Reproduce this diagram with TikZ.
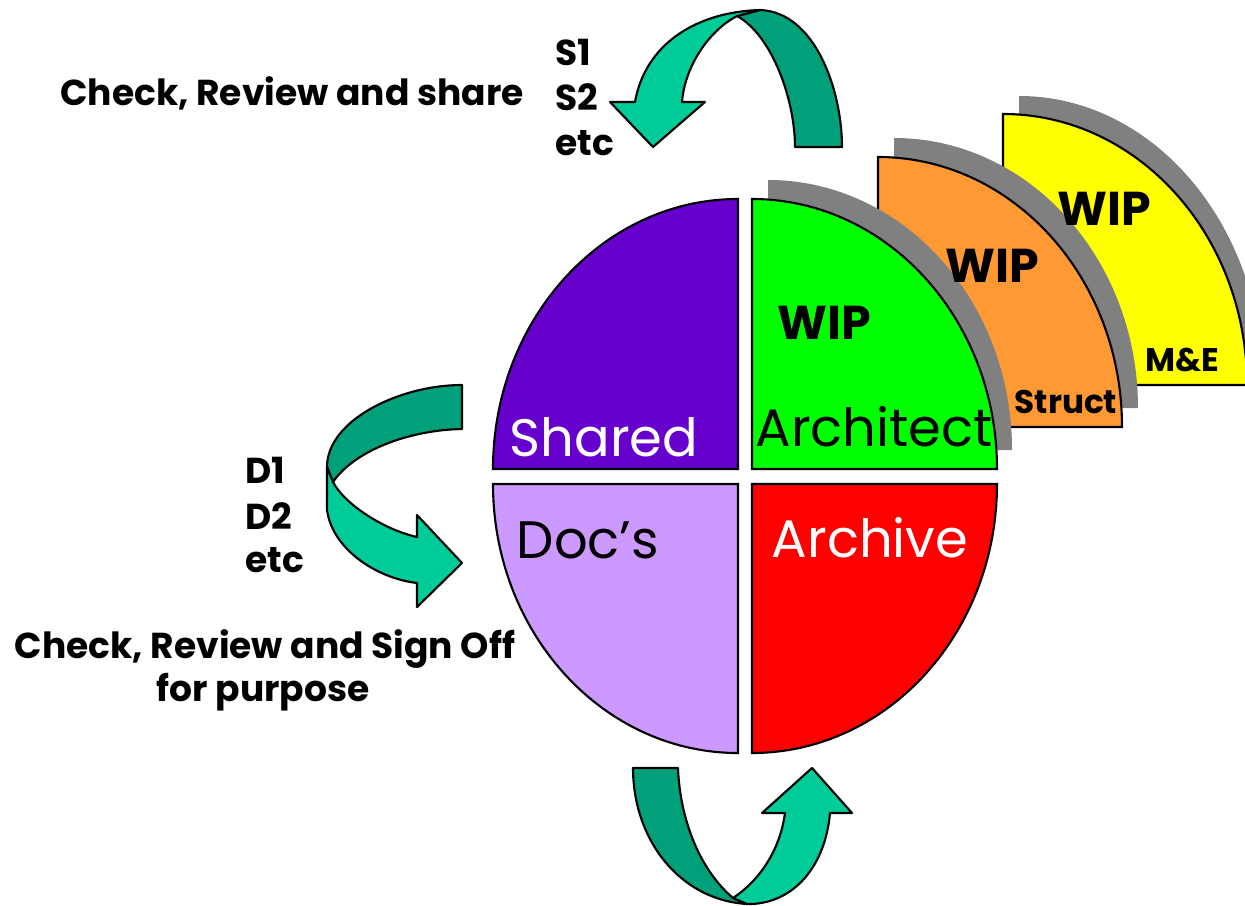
\documentclass[tikz,border=0pt]{standalone}
\usepackage{fontspec}
\setmainfont{Poppins}
\definecolor{cpurple}{HTML}{6600CC}
\definecolor{clav}{HTML}{CC99FF}
\definecolor{cgreen}{HTML}{00FF00}
\definecolor{cred}{HTML}{FF0000}
\definecolor{corange}{HTML}{FF9933}
\definecolor{cyellow}{HTML}{FFFF00}
\definecolor{cshadow}{HTML}{808080}
\definecolor{adark}{HTML}{00A07A}
\definecolor{alight}{HTML}{00CC99}
\tikzset{
  quad/.style={draw=black,line width=0.6pt},
  shad/.style={fill=cshadow},
  arrdark/.style={fill=adark,draw=black,line width=0.6pt,line join=round},
  arrlight/.style={fill=alight,draw=black,line width=0.6pt,line join=round},
  bigtxt/.style={inner sep=0pt,font=\fontsize{15}{18}\selectfont},
  wiptxt/.style={inner sep=0pt,font=\fontsize{13.5}{16}\selectfont\bfseries},
  smalltxt/.style={inner sep=0pt,font=\fontsize{9.3}{11}\selectfont\bfseries},
  lbltxt/.style={inner sep=0pt,font=\fontsize{10.25}{13}\selectfont\bfseries},
}
\begin{document}
\begin{tikzpicture}[x=0.01cm,y=0.01cm]
\useasboundingbox (0,0) rectangle (1245,-906);
% yellow WIP sector
\fill[shad] (1019,-385) -- (1019,-96) arc[start angle=90,end angle=0,x radius=244,y radius=289] -- cycle;
\path[quad,fill=cyellow] (1003,-385) -- (1003,-114) arc[start angle=90,end angle=0,x radius=244,y radius=271] -- cycle;
% orange WIP sector
\fill[shad] (894,-408) -- (894,-138) arc[start angle=90,end angle=0,x radius=244,y radius=270] -- cycle;
\path[quad,fill=corange] (878,-427) -- (878,-157) arc[start angle=90,end angle=0,x radius=244,y radius=270] -- cycle;
% green shadow
\fill[shad] (768,-450) -- (768,-180) arc[start angle=90,end angle=0,x radius=244,y radius=270] -- cycle;
% four quadrants
\path[quad,fill=cgreen] (752,-469) -- (752,-199) arc[start angle=90,end angle=0,x radius=245,y radius=270] -- cycle;
\path[quad,fill=cpurple] (738,-469) -- (493,-469) arc[start angle=180,end angle=90,x radius=245,y radius=270] -- cycle;
\path[quad,fill=clav] (738,-484) -- (738,-753) arc[start angle=270,end angle=180,x radius=245,y radius=269] -- cycle;
\path[quad,fill=cred] (752,-484) -- (997,-484) arc[start angle=0,end angle=-90,x radius=245,y radius=269] -- cycle;
% top arrow
\path[arrdark] (760,-10) .. controls (815,-12) and (842,-90) .. (842,-147) -- (795,-147) .. controls (795,-100) and (772,-35) .. (737,-16) -- cycle;
\path[arrlight] (635,-102) .. controls (645,-45) and (695,-12) .. (760,-10) -- (737,-16) .. controls (710,-30) and (685,-65) .. (682,-102) -- (705,-102) -- (653,-147) -- (610,-102) -- cycle;
% left arrow
\path[arrdark] (462,-385) .. controls (400,-385) and (327,-420) .. (327,-467) -- (333,-482) .. controls (355,-450) and (410,-430) .. (462,-429) -- cycle;
\path[arrlight] (327,-467) -- (327,-510) .. controls (332,-548) and (375,-578) .. (417,-583) -- (417,-607) -- (462,-563) -- (417,-515) -- (417,-537) .. controls (385,-530) and (345,-505) .. (333,-482) -- cycle;
% bottom arrow
\path[arrdark] (633,-768) -- (678,-768) .. controls (680,-820) and (700,-870) .. (733,-898) -- (747,-904) .. controls (680,-900) and (633,-840) .. (633,-768) -- cycle;
\path[arrlight] (733,-898) .. controls (760,-880) and (780,-850) .. (785,-813) -- (762,-813) -- (812,-768) -- (852,-813) -- (830,-813) .. controls (825,-870) and (790,-905) .. (747,-904) -- cycle;
% texts
\node[bigtxt,text=white] (tshared) at (604,-437) {Shared};
\node[bigtxt,text=black] (tarch) at (874,-427) {Architect};
\node[bigtxt,text=black] (tdocs) at (588,-540) {Doc’s};
\node[bigtxt,text=white] (tarchive) at (870,-538) {Archive};
\node[wiptxt] (wipg) at (824,-323) {WIP};
\node[wiptxt] (wipo) at (992,-266) {WIP};
\node[wiptxt] (wipy) at (1104,-209) {WIP};
\node[smalltxt] (tstruct) at (1066,-402) {Struct};
\node[smalltxt] (tme) at (1182,-360) {M\&E};
\node[lbltxt] (tcheck1) at (292,-93) {Check, Review and share};
\node[lbltxt,anchor=west] (ts1) at (555,-52) {S1};
\node[lbltxt,anchor=west] (ts2) at (555,-97) {S2};
\node[lbltxt,anchor=west] (ts3) at (555,-143) {etc};
\node[lbltxt,anchor=west] (td1) at (245,-470) {D1};
\node[lbltxt,anchor=west] (td2) at (245,-516) {D2};
\node[lbltxt,anchor=west] (td3) at (245,-560) {etc};
\node[lbltxt] (tcheck2) at (265,-649) {Check, Review and Sign Off};
\node[lbltxt] (tcheck3) at (263,-692) {for purpose};
\end{tikzpicture}
\end{document}
